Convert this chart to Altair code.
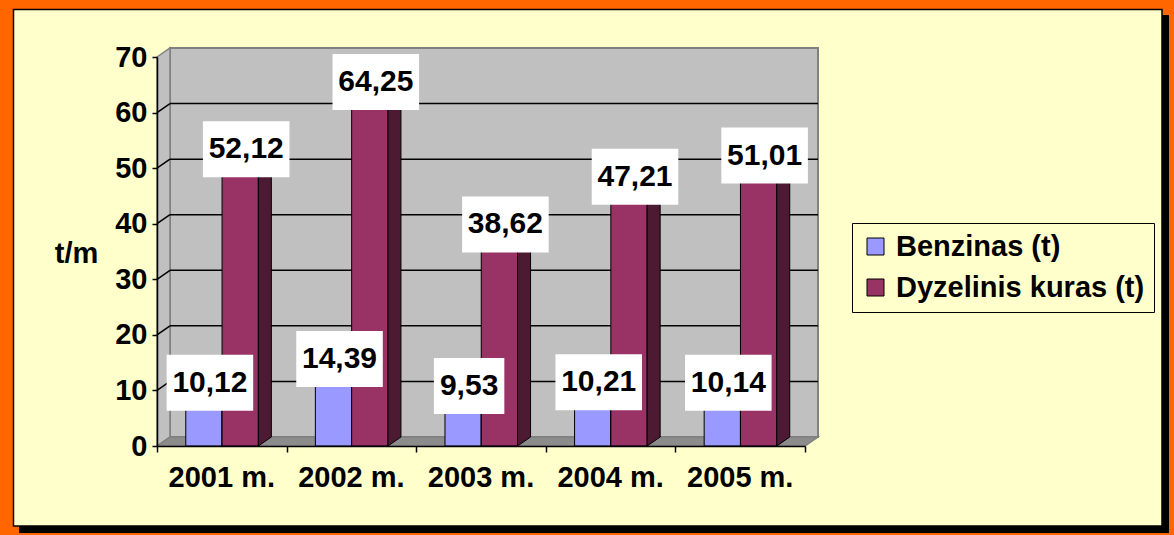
import altair as alt
import pandas as pd

years = ["2001 m.", "2002 m.", "2003 m.", "2004 m.", "2005 m."]
series = ["Benzinas (t)", "Dyzelinis kuras (t)"]
benzinas = [10.12, 14.39, 9.53, 10.21, 10.14]
dyzelinis = [52.12, 64.25, 38.62, 47.21, 51.01]
y_ticks = [0, 10, 20, 30, 40, 50, 60, 70]
colors = ["#9999FF", "#993366"]
side_color = "#4D1A33"

FONT = "Liberation Sans"
W, H = 648, 389
YMAX = 70
NCAT = len(years)
UNIT_PX = W / NCAT          # px per category
DX = 13 / UNIT_PX            # depth in x (category units)
DY = 9 * YMAX / H            # depth in y (value units)
BAR_START, BAR_W = 0.222, 0.28
FS = 29

# ---- bar tables
rows, sides, boxes = [], [], []
for si, (name, vals) in enumerate(zip(series, [benzinas, dyzelinis])):
    for i, v in enumerate(vals):
        x1 = i + BAR_START + si * BAR_W
        x2 = x1 + BAR_W
        rows.append({"series": name, "year": years[i], "v": v, "x1": x1, "x2": x2, "s": si})
        bid = f"{si}-{i}"
        sides.append({"id": bid, "s": si, "x": x2, "y": v, "y2": 0.0})
        sides.append({"id": bid, "s": si, "x": x2 + DX, "y": v + DY, "y2": DY})
        lab = f"{v:.2f}".replace(".", ",")
        ndig = sum(c.isdigit() for c in lab)
        wpx = (ndig * 0.556 + 0.278) * FS + 14
        xc = (x1 + x2) / 2 + 6 / UNIT_PX
        boxes.append({"lab": lab, "v": v, "xc": xc,
                      "bx1": xc - wpx / 2 / UNIT_PX, "bx2": xc + wpx / 2 / UNIT_PX})
bars = pd.DataFrame(rows)
side_df = pd.DataFrame(sides)
box_df = pd.DataFrame(boxes)

xs = alt.Scale(domain=[0, NCAT], nice=False, zero=False)
ys = alt.Scale(domain=[0, YMAX], nice=False, zero=False)
xax = alt.Axis(values=list(range(NCAT + 1)), labels=False, title=None, grid=False, zindex=1,
               domainColor="black", domainWidth=1.5, tickColor="black", tickSize=6, tickWidth=1.5)
yax = alt.Axis(values=y_ticks, grid=False, zindex=1, domainColor="black", domainWidth=1.5,
               tickColor="black", tickSize=5, tickWidth=1.5, labelFont=FONT, labelFontSize=FS,
               labelFontWeight="bold", labelColor="black", labelPadding=5, title="t/m",
               titleAngle=0, titleFont=FONT, titleFontSize=FS, titleFontWeight="bold",
               titleColor="black", titleAlign="center", titleBaseline="middle",
               titleX=-81, titleY=196)


def X(f):
    return alt.X(f, scale=xs, axis=xax)


def Y(f):
    return alt.Y(f, scale=ys, axis=yax)


# ---- frame
frame_df = pd.DataFrame({"k": [0]})
shadow = alt.Chart(frame_df).mark_rect(fill="black").encode(
    x=alt.value(-138), x2=alt.value(1012), y=alt.value(-42), y2=alt.value(476))
panel = alt.Chart(frame_df).mark_rect(fill="#FFFFCC", stroke="black", strokeWidth=1.5).encode(
    x=alt.value(-143.5), x2=alt.value(1005), y=alt.value(-47.5), y2=alt.value(469))

# ---- walls
wall_df = pd.DataFrame({"x": [DX], "x2": [NCAT + DX], "y": [DY], "y2": [YMAX + DY]})
back = alt.Chart(wall_df).mark_rect(fill="#C0C0C0", stroke="#808080", strokeWidth=2).encode(
    x=X("x:Q"), x2="x2:Q", y=Y("y:Q"), y2="y2:Q")

left_df = pd.DataFrame({"x": [0, DX], "y": [YMAX, YMAX + DY], "y2": [0, DY]})
left = alt.Chart(left_df).mark_area(fill="#C0C0C0", stroke="#808080", strokeWidth=1.5).encode(
    x=X("x:Q"), y=Y("y:Q"), y2="y2:Q")

floor_df = pd.DataFrame({"x": [0, DX, NCAT, NCAT + DX], "y": [0, DY, DY, DY], "y2": [0, 0, 0, DY]})
floor = alt.Chart(floor_df).mark_area(fill="#8C8C8C", stroke="#808080", strokeWidth=1.5).encode(
    x=X("x:Q"), y=Y("y:Q"), y2="y2:Q")

grid_df = pd.DataFrame({"v": y_ticks[1:-1]})
grid_df["vb"] = grid_df["v"] + DY
grid_df["x0"] = 0.0
grid_df["xd"] = DX
grid_df["xe"] = NCAT + DX
grid_back = alt.Chart(grid_df).mark_rule(color="black", strokeWidth=1.5).encode(
    x=X("xd:Q"), x2="xe:Q", y=Y("vb:Q"))
grid_left = alt.Chart(grid_df).mark_rule(color="black", strokeWidth=1.5).encode(
    x=X("x0:Q"), x2="xd:Q", y=Y("v:Q"), y2="vb:Q")

color = alt.Color("series:N", scale=alt.Scale(domain=series, range=colors),
                  legend=alt.Legend(orient="none", legendX=695, legendY=166, title=None,
                                    direction="vertical", symbolType="square", symbolSize=289,
                                    symbolStrokeColor="black", symbolStrokeWidth=1,
                                    labelFont=FONT, labelFontSize=FS, labelFontWeight="bold",
                                    labelColor="black", labelOffset=6, rowPadding=11,
                                    labelLimit=0, padding=9, fillColor="#FFFFCC",
                                    strokeColor="black", zindex=1))


def front(si):
    return alt.Chart(bars[bars.s == si]).mark_rect(stroke="black", strokeWidth=1).encode(
        x=X("x1:Q"), x2="x2:Q", y=Y("v:Q"), y2=alt.datum(0), color=color)


def side(si):
    return alt.Chart(side_df[side_df.s == si]).mark_area(
        fill=side_color, stroke="black", strokeWidth=1).encode(
        x=X("x:Q"), y=Y("y:Q"), y2="y2:Q", detail="id:N")


label_box = alt.Chart(box_df).mark_rect(fill="white", yOffset=-35, y2Offset=21).encode(
    x=X("bx1:Q"), x2="bx2:Q", y=Y("v:Q"), y2="v:Q")
label_txt = alt.Chart(box_df).mark_text(font=FONT, fontSize=FS + 1, fontWeight="bold",
                                        color="black", baseline="middle", align="center",
                                        dy=-7).encode(
    x=X("xc:Q"), y=Y("v:Q"), text="lab:N")

cat_df = pd.DataFrame({"year": years, "xc": [i + 0.5 for i in range(NCAT)]})
cat_txt = alt.Chart(cat_df).mark_text(font=FONT, fontSize=FS, fontWeight="bold", color="black",
                                      baseline="middle", align="center").encode(
    x=X("xc:Q"), y=alt.value(H + 32), text="year:N")

chart = alt.layer(
    shadow, panel, back, left, floor, grid_back, grid_left,
    front(0), side(0), front(1), side(1), label_box, label_txt, cat_txt
).properties(
    width=W, height=H, background="#FF6600",
    padding={"left": 157, "top": 57, "right": 1174 - 157 - W, "bottom": 535 - 57 - H},
    autosize=alt.AutoSizeParams(type="none"),
).configure_view(stroke=None)

chart.save("out.html", embed_options={"renderer": "svg", "actions": False})
